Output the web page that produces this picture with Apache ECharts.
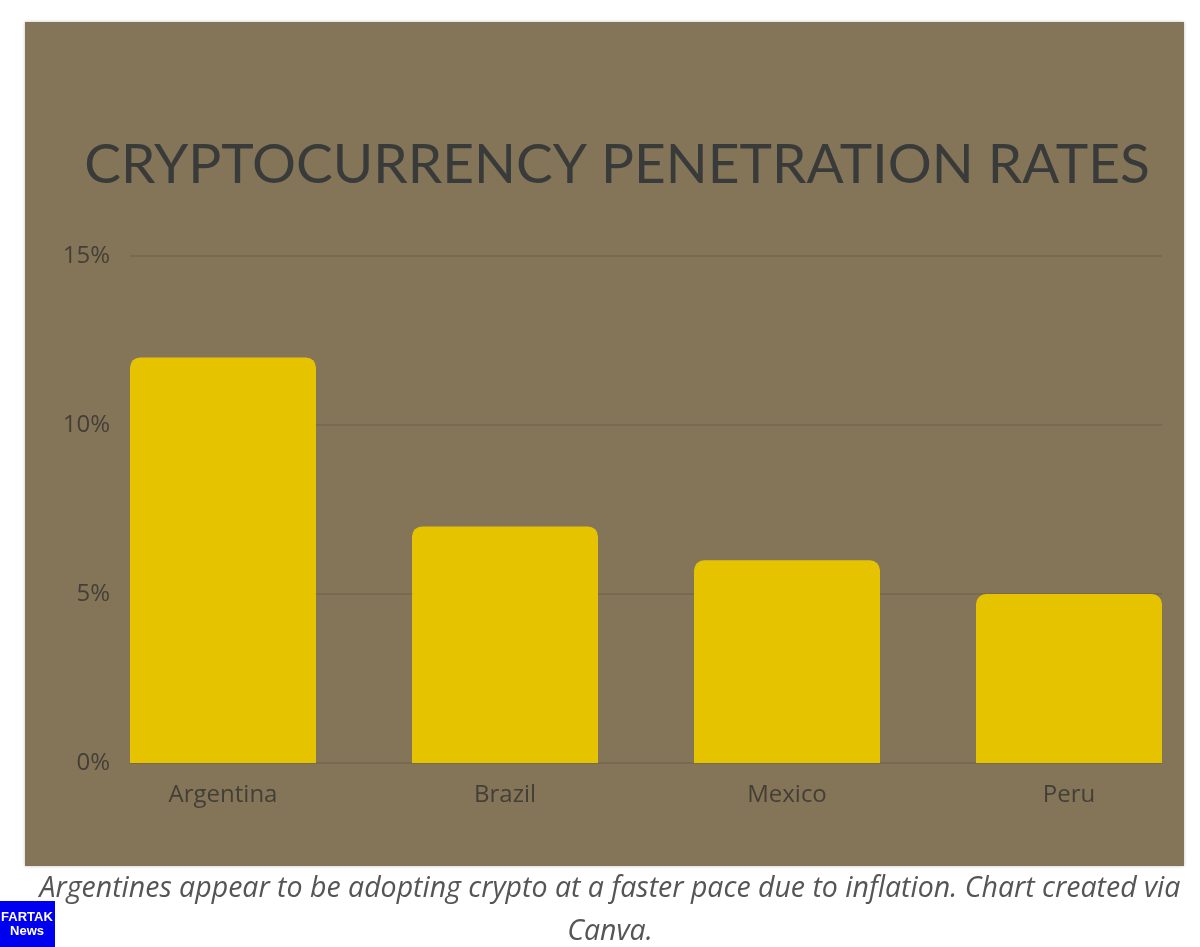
<!DOCTYPE html>
<html>
<head>
<meta charset="utf-8">
<script src="https://cdn.jsdelivr.net/npm/echarts@6/dist/echarts.min.js"></script>
<style>
  html, body { margin: 0; padding: 0; background: #ffffff; }
  #chart { width: 1200px; height: 947px; }
</style>
</head>
<body>
<div id="chart"></div>
<script>
const titleText = 'CRYPTOCURRENCY PENETRATION RATES';
const captionText = 'Argentines appear to be adopting crypto at a faster pace due to inflation. Chart created via\nCanva.';
const categories = ['Argentina', 'Brazil', 'Mexico', 'Peru'];
const penetrationRates = [12, 7, 6, 5];
const yMin = 0, yMax = 15, yStep = 5;

const chart = echarts.init(document.getElementById('chart'));

const option = {
  backgroundColor: '#ffffff',
  animation: false,
  graphic: [
    {
      type: 'rect', z: -10, silent: true,
      shape: { x: 25, y: 22, width: 1159, height: 844 },
      style: { fill: '#857558', shadowBlur: 3, shadowColor: 'rgba(0,0,0,0.25)' }
    },
    {
      type: 'rect', z: 10, silent: true,
      shape: { x: 0, y: 901, width: 55, height: 46 },
      style: { fill: '#0000f0' }
    },
    {
      type: 'text', z: 11, silent: true,
      x: 27, y: 910,
      style: {
        text: 'FARTAK\nNews', fill: '#ffffff', align: 'center',
        font: 'bold 13px "Liberation Sans", Arial, sans-serif', lineHeight: 14
      }
    }
  ],
  title: [
    {
      text: titleText,
      left: 612, top: 133, textAlign: 'center',
      textStyle: {
        fontFamily: 'Lato', fontWeight: 'normal', fontSize: 55, color: '#393b3a'
      }
    },
    {
      text: captionText,
      left: 605, top: 862, textAlign: 'center',
      textStyle: {
        fontFamily: '"Open Sans"', fontStyle: 'italic', fontWeight: 'normal',
        fontSize: 28.5, lineHeight: 43, color: '#555555'
      }
    }
  ],
  grid: [
    { left: 223, right: 131, top: 256, bottom: 184, containLabel: false },
    { left: 130, right: 38, top: 256, bottom: 184, containLabel: false }
  ],
  xAxis: [
    {
      type: 'category', gridIndex: 0, data: categories, boundaryGap: false,
      axisLine: { show: false }, axisTick: { show: false },
      axisLabel: {
        margin: 20, fontFamily: '"Open Sans"', fontSize: 24, color: '#433f37'
      },
      splitLine: { show: false }
    },
    {
      type: 'category', gridIndex: 1, data: categories, show: false
    }
  ],
  yAxis: [
    {
      type: 'value', gridIndex: 0, min: yMin, max: yMax, interval: yStep,
      show: false, splitLine: { show: false }
    },
    {
      type: 'value', gridIndex: 1, min: yMin, max: yMax, interval: yStep,
      axisLine: { show: false }, axisTick: { show: false },
      axisLabel: {
        margin: 20, formatter: '{value}%', fontFamily: '"Open Sans"',
        fontSize: 24, color: '#433f37'
      },
      splitLine: { show: true, lineStyle: { color: '#786a50', width: 2 } }
    }
  ],
  series: [
    {
      type: 'bar', xAxisIndex: 0, yAxisIndex: 0,
      data: penetrationRates, barWidth: 186, clip: false, z: 5,
      itemStyle: { color: '#e6c300', borderRadius: [10, 10, 0, 0] }
    }
  ]
};
chart.setOption(option);
</script>
</body>
</html>
